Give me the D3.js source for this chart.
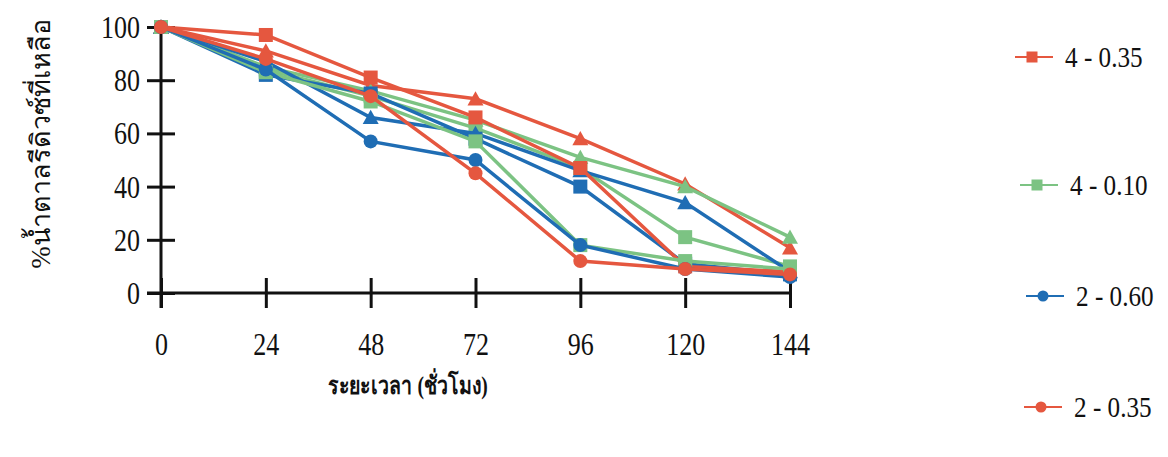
<!DOCTYPE html>
<html>
  <head>
    <meta charset="utf-8">
    <title>Remaining</title>
    <script type="text/javascript" src="https://d3js.org/d3.v7.min.js"></script>
    <style type="text/css">
      body { margin: 0; background: #fff; }
    </style>
  </head>
  <body>
    <script type="text/javascript">
    // hours
    var hours = [0, 24, 48, 72, 96, 120, 144];
    var yTicks = [0, 20, 40, 60, 80, 100];

    // series values (% remaining)
    var s4_035 = [100, 97, 81, 66, 47, 10, 8];
    var s4_060 = [100, 91, 78, 73, 58, 41, 17];
    var s2_035 = [100, 88, 74, 45, 12, 9, 7];
    var s4_010 = [100, 83, 72, 57, 18, 12, 9];
    var s2_010 = [100, 85, 76, 65, 51, 40, 21];
    var s3_010 = [100, 84, 74, 62, 47, 21, 10];
    var s3_060 = [100, 82, 75, 58, 40, 11, 7];
    var s4_060b = [100, 87, 66, 60, 46, 34, 8];
    var s2_060 = [100, 84, 57, 50, 18, 9, 6];

    var names = ["4 - 0.60", "2 - 0.10", "3 - 0.10", "3 - 0.60", "4 - 0.60b",
                 "4 - 0.35", "4 - 0.10", "2 - 0.60", "2 - 0.35"];
    var values = [s4_060, s2_010, s3_010, s3_060, s4_060b, s4_035, s4_010, s2_060, s2_035];
    var colors = ["#e5573f", "#7cc383", "#7cc383", "#1f6db4", "#1f6db4",
                  "#e5573f", "#7cc383", "#1f6db4", "#e5573f"];
    var shapes = ["triangle", "triangle", "square", "square", "triangle",
                  "square", "square", "circle", "circle"];

    // legend (only these show in the picture)
    var legendNames = ["4 - 0.35", "4 - 0.10", "2 - 0.60", "2 - 0.35"];

    var serif = "'Liberation Serif', 'Times New Roman', serif";
    var width = 1168, height = 457;
    var svg = d3.select("body").append("svg")
                .attr("width", width)
                .attr("height", height);

    var x = d3.scaleLinear().domain([0, 144]).range([161, 790]);
    var y = d3.scaleLinear().domain([0, 100]).range([293, 27]);

    // y axis
    var gy = svg.append("g")
       .attr("transform", "translate(" + x(0) + ",0)")
       .call(d3.axisLeft(y).tickValues(yTicks).tickSize(14).tickPadding(8));
    gy.attr("font-family", serif);
    gy.select(".domain").attr("stroke", "#111").attr("stroke-width", 3)
      .attr("d", "M0," + y(100) + "V" + (y(0) + 15));
    gy.selectAll(".tick line").attr("x1", 14).attr("x2", -14)
      .attr("stroke", "#111").attr("stroke-width", 3);
    gy.selectAll(".tick text").attr("font-size", 31).attr("x", 0).attr("dy", "0.34em")
      .attr("fill", "#111")
      .attr("transform", "translate(-21,0) scale(0.84,1)");

    // x axis
    var gx = svg.append("g")
       .attr("transform", "translate(0," + y(0) + ")")
       .call(d3.axisBottom(x).tickValues(hours).tickSize(15).tickPadding(0));
    gx.attr("font-family", serif);
    gx.select(".domain").attr("stroke", "#111").attr("stroke-width", 3)
      .attr("d", "M" + (x(0) - 14) + ",0H" + x(144));
    gx.selectAll(".tick line").attr("y1", -15).attr("y2", 15)
      .attr("stroke", "#111").attr("stroke-width", 3);
    gx.selectAll(".tick text").attr("font-size", 31).attr("y", 0).attr("dy", 0)
      .attr("fill", "#111")
      .attr("transform", "translate(0,62) scale(0.84,1)");

    // lines
    var line = d3.line()
                 .x(function(d, i) { return x(hours[i]); })
                 .y(function(d) { return y(d); });

    function marker(g, shape, color, cx, cy, s) {
      if (shape === "square") {
        g.append("rect").attr("x", cx - s / 2).attr("y", cy - s / 2)
         .attr("width", s).attr("height", s).attr("fill", color);
      } else if (shape === "triangle") {
        var h = s * 0.95;
        g.append("path")
         .attr("d", "M" + cx + "," + (cy - h / 2 - 1) + "L" + (cx + s / 2 + 1) + "," + (cy + h / 2) +
                    "L" + (cx - s / 2 - 1) + "," + (cy + h / 2) + "Z")
         .attr("fill", color);
      } else {
        g.append("circle").attr("cx", cx).attr("cy", cy).attr("r", s / 2).attr("fill", color);
      }
    }

    values.forEach(function(vals, k) {
      var g = svg.append("g");
      g.append("path")
       .datum(vals)
       .attr("d", line)
       .attr("fill", "none")
       .attr("stroke", colors[k])
       .attr("stroke-width", 3.5);
      vals.forEach(function(v, i) {
        marker(g, shapes[k], colors[k], x(hours[i]), y(v), 14);
      });
    });

    // axis titles
    svg.append("text")
       .attr("transform", "translate(408,394) scale(0.78,1)")
       .attr("text-anchor", "middle")
       .attr("font-family", serif)
       .attr("font-size", 25)
       .attr("font-weight", "bold")
       .attr("fill", "#111")
       .text("ระยะเวลา (ชั่วโมง)");
    svg.append("text")
       .attr("transform", "translate(50,144) rotate(-90)")
       .attr("text-anchor", "middle")
       .attr("font-family", serif)
       .attr("font-size", 27)
       .attr("fill", "#111")
       .text("%น้ำตาลรีดิวซ์ที่เหลือ");

    // legend
    var legY = [57, 185, 296, 407];
    var legX = [1015, 1020, 1026, 1024];
    legendNames.forEach(function(n, i) {
      var k = names.indexOf(n);
      var g = svg.append("g");
      g.append("line").attr("x1", legX[i]).attr("x2", legX[i] + 38)
       .attr("y1", legY[i]).attr("y2", legY[i])
       .attr("stroke", colors[k]).attr("stroke-width", 2);
      marker(g, shapes[k], colors[k], legX[i] + 17, legY[i], 11);
      g.append("text")
       .attr("transform", "translate(" + (legX[i] + 50) + "," + (legY[i] + 10) + ") scale(0.84,1)")
       .attr("font-family", serif)
       .attr("font-size", 30)
       .attr("fill", "#111")
       .text(n);
    });
    </script>
  </body>
</html>
